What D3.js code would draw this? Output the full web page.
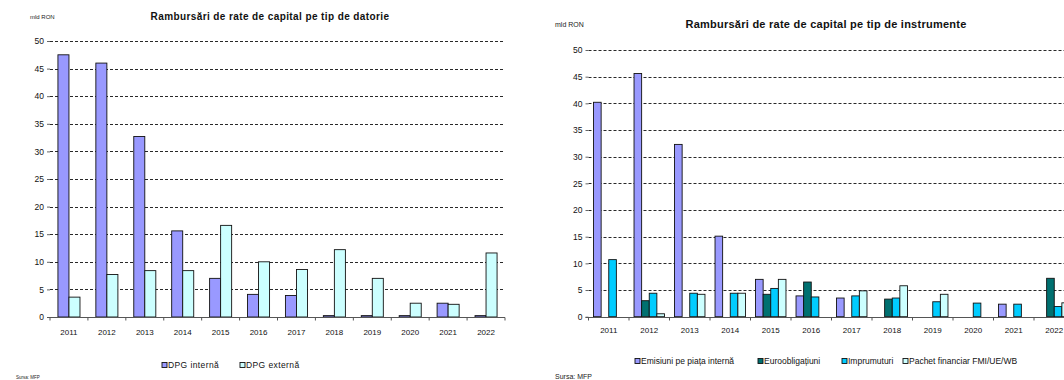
<!DOCTYPE html>
<html><head><meta charset="utf-8">
<script src="https://cdn.jsdelivr.net/npm/d3@7"></script>
<style>
html,body{margin:0;padding:0;background:#fff;overflow:hidden;}
svg{display:block;font-family:"Liberation Sans",Arial,sans-serif;}
</style></head>
<body>
<svg id="c" width="1064" height="380"></svg>
<script>
// ---- Data ----
const years = ["2011","2012","2013","2014","2015","2016","2017","2018","2019","2020","2021","2022"];
const yTicks = [0,5,10,15,20,25,30,35,40,45,50];

// Left chart: by debt type
const debtSeries = ["DPG internă","DPG externă"];
const dpgInterna = [47.5,46.0,32.7,15.6,7.0,4.1,3.9,0.25,0.25,0.25,2.5,0.25];
const dpgExterna = [3.6,7.7,8.4,8.4,16.6,10.0,8.6,12.2,7.0,2.5,2.3,11.6];

// Right chart: by instrument
const instrSeries = ["Emisiuni pe piața internă","Euroobligațiuni","Imprumuturi","Pachet financiar FMI/UE/WB"];
const emisiuni   = [40.2,45.6,32.3,15.1,7.0,3.9,3.5,0,0,0,2.35,0];
const euroobl    = [0,3.0,0,0,4.2,6.5,0,3.3,0,0,0,7.2];
const imprumuturi= [10.7,4.4,4.4,4.4,5.3,3.7,3.9,3.5,2.8,2.55,2.35,1.9];
const pachet     = [0,0.55,4.2,4.4,7.0,0,4.85,5.8,4.2,0,0,2.6];

const svg = d3.select("#c");

function drawChart(cfg){
  const g = svg.append("g");
  const x0 = d3.scaleBand().domain(years).range(cfg.xRange).paddingInner(0).paddingOuter(0);
  const x1 = d3.scaleBand().domain(cfg.series).range([0, x0.bandwidth()]).paddingInner(0).paddingOuter(cfg.outerPad);
  const y = d3.scaleLinear().domain([0,50]).range(cfg.yRange);
  const color = d3.scaleOrdinal().domain(cfg.series).range(cfg.colors);

  // gridlines
  g.append("g").selectAll("line").data(yTicks.filter(d=>d>0)).join("line")
    .attr("x1", cfg.xRange[0]).attr("x2", cfg.gridEnd)
    .attr("y1", d=>Math.round(y(d))+0.5).attr("y2", d=>Math.round(y(d))+0.5)
    .attr("stroke","#111").attr("stroke-width",0.9).attr("stroke-dasharray","3,2");

  // y axis
  const ya = g.append("g").attr("transform",`translate(${cfg.xRange[0]},0)`)
    .call(d3.axisLeft(y).tickValues(yTicks).tickSize(3).tickPadding(3));
  ya.select(".domain").remove();
  ya.selectAll(".tick line").attr("stroke","#666");
  ya.selectAll("text").attr("font-size",cfg.tickFont).attr("fill","#111");

  // bars
  const rows = years.map((yr,i)=>({yr, vals: cfg.series.map((s,j)=>({s, v: cfg.data[j][i]}))}));
  g.append("g").selectAll("g").data(rows).join("g")
    .attr("transform", d=>`translate(${x0(d.yr)},0)`)
    .selectAll("rect").data(d=>d.vals.filter(e=>e.v>0)).join("rect")
    .attr("x", d=>x1(d.s)).attr("width", x1.bandwidth())
    .attr("y", d=>y(d.v)).attr("height", d=>y(0)-y(d.v))
    .attr("fill", d=>color(d.s)).attr("stroke","#111").attr("stroke-width",0.9);

  // x axis
  const y0 = Math.round(y(0))+0.5;
  const xa = g.append("g");
  xa.append("line").attr("x1",cfg.xRange[0]-3).attr("x2",cfg.xRange[1]).attr("y1",y0).attr("y2",y0)
    .attr("stroke","#555").attr("stroke-width",1);
  xa.selectAll("line.tk").data(years.concat(["end"])).join("line").attr("class","tk")
    .attr("x1", (d,i)=>cfg.xRange[0]+i*x0.step()).attr("x2",(d,i)=>cfg.xRange[0]+i*x0.step())
    .attr("y1", y0).attr("y2", y0+3).attr("stroke","#555");
  xa.selectAll("text").data(years).join("text")
    .attr("x", d=>x0(d)+x0.bandwidth()/2).attr("y", cfg.xLabelY)
    .attr("text-anchor","middle").attr("font-size",cfg.xFont).attr("fill","#111").text(d=>d);

  // title & unit
  g.append("text").attr("x",cfg.titleX).attr("y",cfg.titleY).attr("text-anchor","middle")
    .attr("font-weight","bold").attr("font-size",cfg.titleFont).attr("letter-spacing",cfg.titleLS)
    .attr("fill","#111").text(cfg.title);
  g.append("text").attr("x",cfg.unitX).attr("y",cfg.unitY).attr("font-size",cfg.unitFont).attr("fill","#222").text("mld RON");

  // legend
  const lg = g.append("g");
  cfg.series.forEach((s,i)=>{
    const lx = cfg.legendX[i];
    lg.append("rect").attr("x",lx).attr("y",cfg.legendY-2.5).attr("width",5).attr("height",5)
      .attr("fill",color(s)).attr("stroke","#111").attr("stroke-width",0.9);
    lg.append("text").attr("x",lx+cfg.legendGap).attr("y",cfg.legendY+3).attr("font-size",cfg.legendFont)
      .attr("letter-spacing",cfg.legendLS).attr("fill","#111").text(s);
  });

  // source
  g.append("text").attr("x",cfg.srcX).attr("y",cfg.srcY).attr("font-size",cfg.srcFont).attr("fill","#222").text("Sursa: MFP");
}

drawChart({
  series: debtSeries, data:[dpgInterna, dpgExterna], colors:["#9999FF","#CCFFFF"],
  xRange:[50,505], yRange:[317,41], gridEnd:505, outerPad:0.72,
  tickFont:"8.5px", xFont:"8px", xLabelY:335,
  title:"Rambursări de rate de capital pe tip de datorie", titleX:270, titleY:20, titleFont:"10px", titleLS:0.4,
  unitX:30, unitY:19, unitFont:"6px",
  legendX:[162,240], legendY:365, legendGap:6, legendFont:"8.5px", legendLS:0.4,
  srcX:16, srcY:378.5, srcFont:"4.5px"
});

drawChart({
  series: instrSeries, data:[emisiuni, euroobl, imprumuturi, pachet], colors:["#9999FF","#007070","#00CCFF","#CCFFFF"],
  xRange:[588.5,1074.5], yRange:[316.7,50], gridEnd:1074.5, outerPad:0.66,
  tickFont:"8.5px", xFont:"8px", xLabelY:333,
  title:"Rambursări de rate de capital pe tip de instrumente", titleX:826, titleY:27.5, titleFont:"11px", titleLS:0.25,
  unitX:555, unitY:27, unitFont:"7px",
  legendX:[635,758,842,903], legendY:361, legendGap:6, legendFont:"8.5px", legendLS:0,
  srcX:555, srcY:379, srcFont:"7px"
});
</script>
</body></html>
